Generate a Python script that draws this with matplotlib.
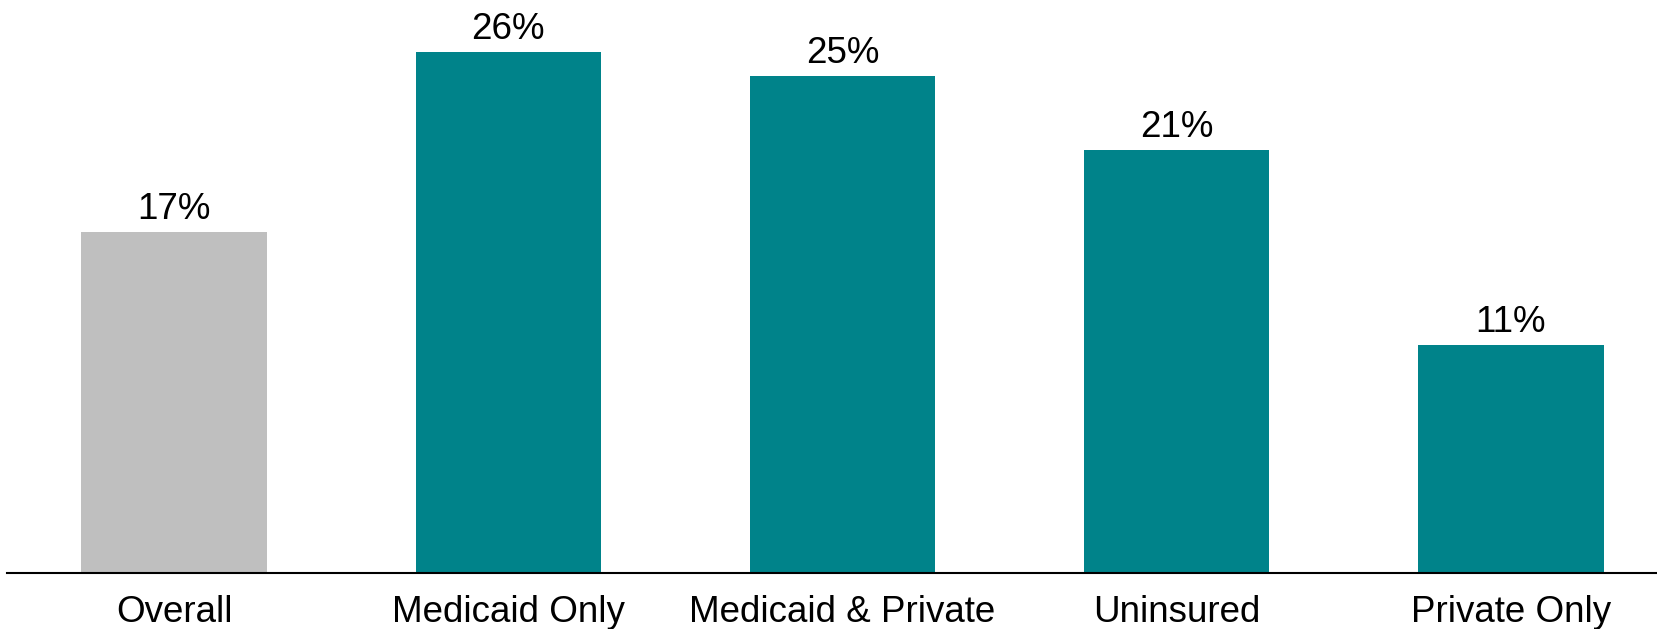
import matplotlib.pyplot as plt

plt.rcParams['font.family'] = ['Liberation Sans', 'DejaVu Sans']

categories = ["Overall", "Medicaid Only", "Medicaid & Private", "Uninsured", "Private Only"]
values = [17.0, 26.0, 24.8, 21.1, 11.4]
colors = ["#BFBFBF", "#00838A", "#00838A", "#00838A", "#00838A"]

fig = plt.figure(figsize=(16.57, 6.29), dpi=100)
ax = fig.add_axes([7.5 / 1657, 56 / 629, 1 - 7.5 / 1657, 573 / 629])

x = list(range(len(categories)))
bars = ax.bar(x, values, width=0.555, color=colors)

for xi, v in zip(x, values):
    ax.annotate(f"{round(v)}%", (xi, v), xytext=(0, 5), textcoords="offset pixels",
                ha="center", va="bottom", fontsize=26.5)

ax.set_xlim(-0.4985, 4.437)
ax.set_ylim(0, 28.6)
ax.set_xticks(x)
ax.set_xticklabels(categories, fontsize=26.5)
ax.tick_params(axis="x", length=0, pad=15.5)
ax.set_yticks([])
for s in ["top", "right", "left"]:
    ax.spines[s].set_visible(False)
ax.spines["bottom"].set_linewidth(1.5)
ax.spines["bottom"].set_color("black")

fig.savefig("out.png", dpi=100)
